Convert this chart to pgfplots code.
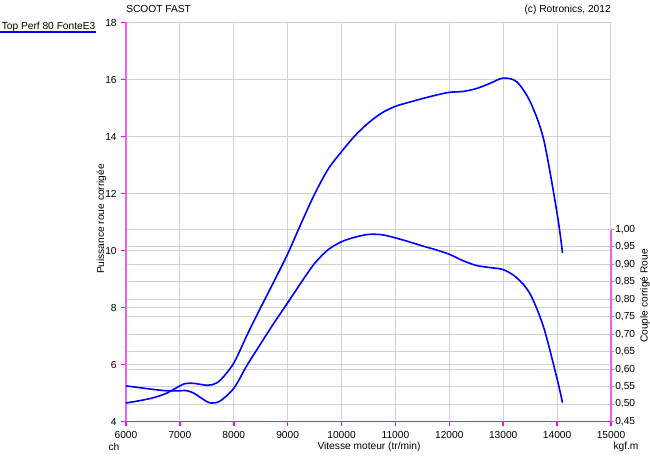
\documentclass[border=0pt]{standalone}
\usepackage{pgfplots}
\pgfplotsset{compat=1.18}
\usepackage{fontspec}
\setmainfont{Liberation Sans}
\definecolor{magA}{RGB}{255,0,255}
\definecolor{magB}{RGB}{236,96,236}
\definecolor{gridc}{RGB}{210,210,210}
\definecolor{curve}{RGB}{0,0,255}
\newcommand{\ff}{\fontsize{7.65}{9}\selectfont}
\pgfplotsset{
  common/.style={at={(94.5pt,-316.125pt)}, anchor=south west,
    scale only axis, width=363.75pt, height=299.25pt,
    xmin=6000, xmax=15000},
  rightax/.style={common, ymin=0.45, ymax=1.593},
}
\begin{document}
\begin{tikzpicture}
% right axis (torque scale, kgf.m): grid and ticks
\begin{axis}[
  rightax,
  axis x line=none, axis y line*=right,
  y axis line style={draw=none},
  ytick={0.45,0.50,0.55,0.60,0.65,0.70,0.75,0.80,0.85,0.90,0.95,1.00},
  ymajorgrids, major grid style={draw=gridc, line width=0.75pt},
  tick align=outside, major tick length=2pt,
  ytick style={draw=magB, line width=0.8pt},
  yticklabel style={font=\ff, inner sep=1pt},
  scaled y ticks=false,
  /pgf/number format/assume math mode=true,
  /pgf/number format/.cd, fixed, fixed zerofill, precision=2, use comma,
]
\end{axis}
% left axis (power, ch)
\begin{axis}[
  common, ymin=4, ymax=18,
  xtick={6000,7000,...,15000}, ytick={4,6,...,18},
  grid=major, major grid style={draw=gridc, line width=0.75pt},
  axis x line*=bottom, axis y line*=left,
  x axis line style={draw=magA, line width=1.1pt, -},
  y axis line style={draw=magB, line width=1.1pt, -},
  tick align=outside, major tick length=3.5pt,
  xtick style={draw=magA, line width=1.1pt},
  ytick style={draw=magA, line width=1.1pt},
  ticklabel style={font=\ff},
  scaled x ticks=false, scaled y ticks=false,
  clip=false,
  /pgf/number format/assume math mode=true,
  /pgf/number format/1000 sep={},
]
\addplot[curve, line width=1.2pt, smooth, tension=0.5] coordinates {
(6000,4.65) (6250,4.73) (6500,4.83) (6750,4.99) (7000,5.25)
(7100,5.33) (7250,5.34) (7500,5.27) (7600,5.29) (7750,5.45)
(8000,6.05) (8250,7.05) (8500,8.00) (8750,8.93) (9000,9.88)
(9250,10.95) (9500,11.98) (9750,12.85) (10000,13.47) (10250,14.03)
(10500,14.48) (10750,14.83) (11000,15.06) (11250,15.20) (11500,15.33)
(11750,15.45) (12000,15.55) (12250,15.58) (12500,15.68) (12750,15.86)
(13000,16.05) (13250,15.92) (13500,15.22) (13750,13.90) (14000,11.30)
(14100,9.92)};
\draw[magB, line width=1.1pt] (rel axis cs:1,0) -- (rel axis cs:1,0.4812);
\end{axis}
% torque curve, on top, right-axis scale
\begin{axis}[rightax, hide axis]
\addplot[curve, line width=1.2pt, smooth, tension=0.5] coordinates {
(6000,0.552) (6250,0.547) (6500,0.542) (6750,0.538) (7000,0.538)
(7100,0.539) (7250,0.532) (7500,0.507) (7600,0.503) (7750,0.509)
(8000,0.545) (8250,0.612) (8500,0.673) (8750,0.733) (9000,0.790)
(9250,0.848) (9500,0.903) (9750,0.942) (10000,0.965) (10250,0.978)
(10500,0.986) (10750,0.985) (11000,0.976) (11250,0.965) (11500,0.953)
(11750,0.942) (12000,0.929) (12250,0.911) (12500,0.897) (12750,0.891)
(13000,0.885) (13250,0.862) (13500,0.815) (13750,0.720) (14000,0.572)
(14100,0.504)};
\end{axis}
\begin{scope}[x=0.75pt, y=-0.75pt]
\node[anchor=west, inner sep=0pt, font=\ff] at (126,9) {SCOOT FAST};
\node[anchor=east, inner sep=0pt, font=\ff] at (611,10) {(c) Rotronics, 2012};
\node[anchor=west, inner sep=0pt, font=\ff] at (1.5,26.5) {Top Perf 80 FonteE3};
\draw[curve, line width=0.9pt] (0,32) -- (96,32);
\node[rotate=90, inner sep=0pt, font=\ff] at (101.5,219) {Puissance roue corrigée};
\node[rotate=90, inner sep=0pt, font=\ff] at (645,296) {Couple corrigé Roue};
\node[inner sep=0pt, font=\ff] at (369,447) {Vitesse moteur (tr/min)};
\node[inner sep=0pt, font=\ff] at (114,447) {ch};
\node[inner sep=0pt, font=\ff] at (626,447) {kgf.m};
\end{scope}
\pgfresetboundingbox
\path (0pt,0pt) rectangle (487.5pt,-342pt);
\end{tikzpicture}
\end{document}
